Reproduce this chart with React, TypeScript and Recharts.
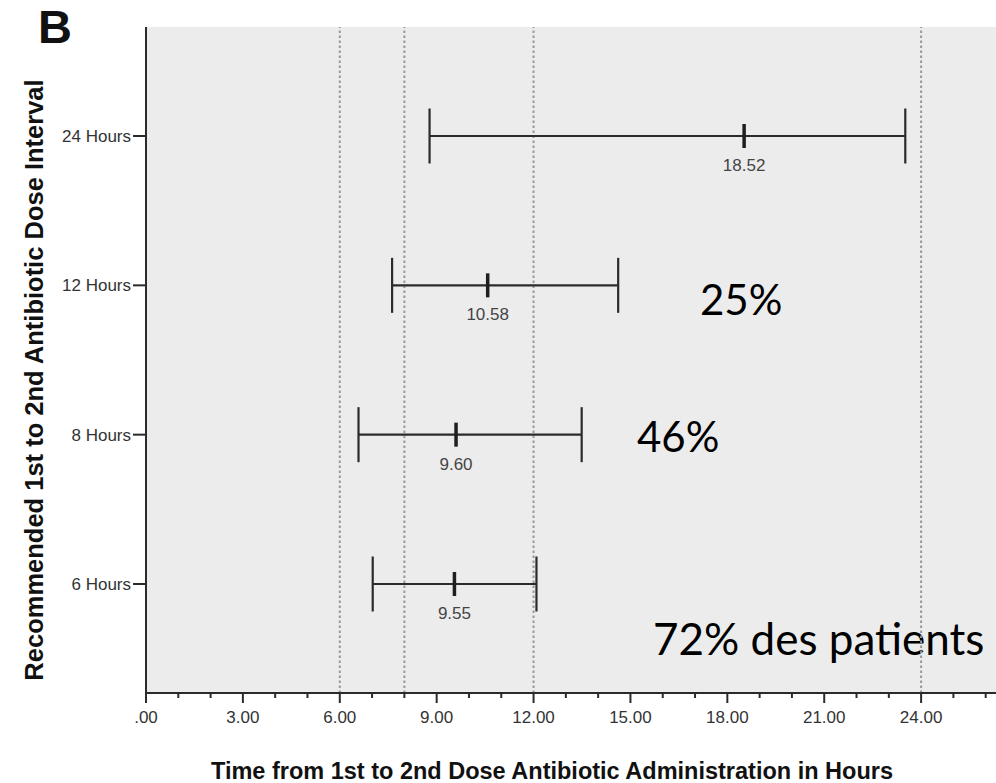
import {
  CartesianGrid,
  Customized,
  ErrorBar,
  ReferenceLine,
  Scatter,
  ScatterChart,
  XAxis,
  YAxis
} from "recharts";

// recommended dose interval rows, bottom to top
const intervals = ["6 Hours", "8 Hours", "12 Hours", "24 Hours"];
const means = [9.55, 9.6, 10.58, 18.52];
const lower = [7.02, 6.58, 7.62, 8.78];
const upper = [12.09, 13.49, 14.62, 23.51];

// dotted guides at the recommended intervals
const guideHours = [6, 8, 12, 24];

const xTicks = [0, 1, 2, 3, 4, 5, 6, 7, 8, 9, 10, 11, 12, 13, 14, 15, 16, 17, 18, 19, 20, 21, 22, 23, 24, 25, 26];
const majorEvery = 3;

const FONT = "'Liberation Sans', Arial, sans-serif";
const INK = "#2b2b2b";

const rows = intervals.map((name, i) => ({
  name,
  y: i + 1,
  x: means[i],
  err: [means[i] - lower[i], upper[i] - means[i]]
}));

const fmtHours = (v: number) => (v === 0 ? ".00" : v.toFixed(2));

function XTick(props: any) {
  const { x, y, payload } = props;
  const major = payload.value % majorEvery === 0;
  return (
    <g>
      <line x1={x} x2={x} y1={y} y2={y + (major ? 10 : 5)} stroke={INK} strokeWidth={2} />
      {major && (
        <text x={x} y={y + 30} textAnchor="middle" fontSize={17} fontFamily={FONT} fill="#333">
          {fmtHours(payload.value)}
        </text>
      )}
    </g>
  );
}

function MeanMark(props: any) {
  const { cx, cy, payload } = props;
  return (
    <g>
      <line x1={cx} x2={cx} y1={cy - 12} y2={cy + 12} stroke="#1f1f1f" strokeWidth={3.5} />
      <text x={cx} y={cy + 35} textAnchor="middle" fontSize={17} fontFamily={FONT} fill="#444">
        {payload.x.toFixed(2)}
      </text>
    </g>
  );
}

function Titles() {
  return (
    <g fontFamily={FONT} fontWeight="bold" fill="#111">
      <text x={38} y={43} fontSize={47}>B</text>
      <text
        x={43}
        y={380}
        fontSize={25.5}
        textAnchor="middle"
        transform="rotate(-90 43 380)"
      >
        Recommended 1st to 2nd Antibiotic Dose Interval
      </text>
      <text x={552} y={779} fontSize={23.5} textAnchor="middle">
        Time from 1st to 2nd Dose Antibiotic Administration in Hours
      </text>
      <g fontFamily="Lato, 'Open Sans', sans-serif" fontWeight="normal" fill="#000">
        <text x={700} y={315} fontSize={42}>25%</text>
        <text x={637} y={452} fontSize={42}>46%</text>
        <text x={653} y={655} fontSize={44}>72% des patients</text>
      </g>
    </g>
  );
}

export default function App() {
  return (
    <div style={{ position: "absolute", left: 0, top: 0, width: 996, height: 783, overflow: "hidden", background: "#fff" }}>
      <ScatterChart width={1030} height={783} margin={{ top: 27, right: 12, bottom: 30, left: 0 }}>
        <CartesianGrid fill="#ececec" horizontal={false} vertical={false} />
        <XAxis
          type="number"
          dataKey="x"
          domain={[0, 27]}
          ticks={xTicks}
          interval={0}
          height={60}
          tickSize={0}
          tickMargin={0}
          tickLine={false}
          tick={<XTick />}
          axisLine={{ stroke: INK, strokeWidth: 2 }}
        />
        <XAxis
          xAxisId="top"
          orientation="top"
          type="number"
          domain={[0, 27]}
          height={0}
          tick={false}
          tickLine={false}
          axisLine={{ stroke: "#444", strokeWidth: 2 }}
        />
        <YAxis
          type="number"
          dataKey="y"
          domain={[0.27, 4.73]}
          ticks={[1, 2, 3, 4]}
          interval={0}
          width={146}
          tickSize={13}
          tickMargin={2}
          tickFormatter={(v: number) => intervals[v - 1]}
          tick={{ fontSize: 17, fontFamily: FONT, fill: "#333" }}
          tickLine={{ stroke: INK, strokeWidth: 2 }}
          axisLine={{ stroke: INK, strokeWidth: 2 }}
        />
        {guideHours.map((h) => (
          <ReferenceLine key={h} x={h} stroke="#999" strokeWidth={2} strokeDasharray="2.5 2.5" />
        ))}
        <Scatter data={rows} shape={<MeanMark />} isAnimationActive={false}>
          <ErrorBar dataKey="err" direction="x" width={27.5} stroke={INK} strokeWidth={2.2} isAnimationActive={false} />
        </Scatter>
        <Customized component={<Titles />} />
      </ScatterChart>
    </div>
  );
}
